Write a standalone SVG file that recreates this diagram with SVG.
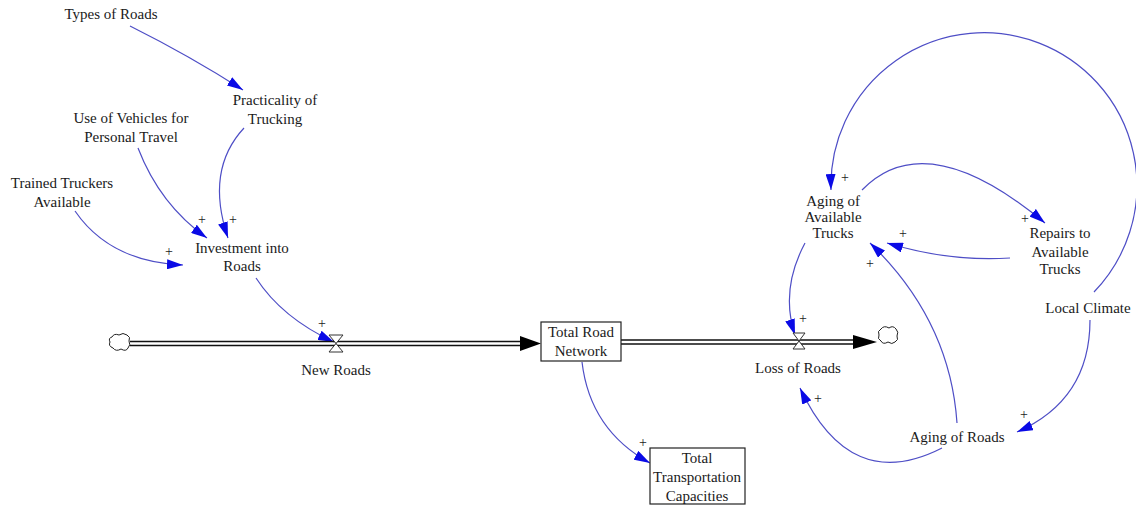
<svg xmlns="http://www.w3.org/2000/svg" width="1136" height="508" viewBox="0 0 1136 508">
<style>
text{font-family:"Liberation Serif","Times New Roman","DejaVu Serif","Noto Serif",serif;font-size:15px;fill:#1a1a1a;text-anchor:middle}
.pl{font-size:14px}
.lnk{fill:none;stroke:#4e4ec6;stroke-width:1.2;marker-end:url(#ah)}
.pipe{stroke:#111;stroke-width:1.4;fill:none}
.box{fill:#fff;stroke:#222;stroke-width:1.2}
.valve{fill:#fff;stroke:#333;stroke-width:1}
.cloud{fill:#fff;stroke:#222;stroke-width:1}
</style>
<defs>
<marker id="ah" viewBox="0 0 16 10" refX="16" refY="5" markerWidth="16" markerHeight="10" markerUnits="userSpaceOnUse" orient="auto">
<path d="M0,0 L16,5 L0,10 Z" fill="#0a0ae6"/>
</marker>
</defs>
<rect width="1136" height="508" fill="#fff"/>

<g id="connectors">
<path class="lnk" d="M130 26 Q190 56 243 90"/>
<path class="lnk" d="M138 148 Q160 205 207 238"/>
<path class="lnk" d="M244 128 Q205 170 228 238"/>
<path class="lnk" d="M75 211 Q110 262 183 265"/>
<path class="lnk" d="M256 278 Q282 318 334 342"/>
<path class="lnk" d="M582 362 Q590 430 650 463"/>
<path class="lnk" d="M1094 292 A153 153 0 1 0 831 190"/>
<path class="lnk" d="M862 190 Q926 124 1045 223"/>
<path class="lnk" d="M1010 258 Q950 262 887 243"/>
<path class="lnk" d="M957 423 Q950 320 870 243"/>
<path class="lnk" d="M805 243 Q780 290 795 335"/>
<path class="lnk" d="M1090 320 Q1090 400 1017 432"/>
<path class="lnk" d="M942 448 Q850 495 800 388"/>
<g id="polarity">
<text x="202" y="224" class="pl">+</text>
<text x="233" y="224" class="pl">+</text>
<text x="169" y="256" class="pl">+</text>
<text x="322" y="328" class="pl">+</text>
<text x="643" y="447" class="pl">+</text>
<text x="845" y="182" class="pl">+</text>
<text x="1025" y="223" class="pl">+</text>
<text x="903" y="238" class="pl">+</text>
<text x="870" y="268" class="pl">+</text>
<text x="803" y="323" class="pl">+</text>
<text x="818" y="403" class="pl">+</text>
<text x="1024" y="419" class="pl">+</text>
</g>
</g>

<g id="flow-new-roads">
<path class="cloud" d="M112 337 Q114 333 119 335 Q123 332 127 335 Q131 337 129 341 Q131 345 128 348 Q126 352 121 349 Q116 352 113 348 Q108 346 110 342 Q108 338 112 337 Z"/>
<line class="pipe" x1="130" y1="341.5" x2="522" y2="341.5"/>
<line class="pipe" x1="130" y1="345.5" x2="522" y2="345.5"/>
<polygon points="520,336 541,343.5 520,351" fill="#000"/>
<polygon class="valve" points="329,335 343,335 329,352 343,352"/>
<text x="336" y="375">New Roads</text>
</g>

<g id="flow-loss-of-roads">
<line class="pipe" x1="621" y1="340" x2="856" y2="340"/>
<line class="pipe" x1="621" y1="344" x2="856" y2="344"/>
<polygon points="853,335 877,342 853,349" fill="#000"/>
<path class="cloud" d="M881 329 Q884 325 889 328 Q893 325 896 329 Q899 332 897 336 Q899 340 895 342 Q892 345 888 342 Q883 345 881 341 Q877 339 879 335 Q877 331 881 329 Z"/>
<polygon class="valve" points="793,333 805,333 793,349 805,349"/>
<text x="798" y="373">Loss of Roads</text>
</g>

<g id="total-road-network">
<rect class="box" x="541" y="322" width="80" height="39"/>
<text x="581" y="337">Total Road</text>
<text x="581" y="356">Network</text>
</g>

<g id="total-transportation-capacities">
<rect class="box" x="650" y="448" width="95" height="56"/>
<text x="697" y="463">Total</text>
<text x="697" y="482">Transportation</text>
<text x="697" y="501">Capacities</text>
</g>

<g id="types-of-roads"><text x="111" y="19">Types of Roads</text></g>
<g id="practicality-of-trucking"><text x="275" y="105">Practicality of</text><text x="275" y="124">Trucking</text></g>
<g id="use-of-vehicles"><text x="131" y="123">Use of Vehicles for</text><text x="131" y="142">Personal Travel</text></g>
<g id="trained-truckers"><text x="62" y="188">Trained Truckers</text><text x="62" y="207">Available</text></g>
<g id="investment-into-roads"><text x="242" y="253">Investment into</text><text x="242" y="271">Roads</text></g>
<g id="aging-of-available-trucks"><text x="833" y="206">Aging of</text><text x="833" y="222">Available</text><text x="833" y="238">Trucks</text></g>
<g id="repairs-to-available-trucks"><text x="1060" y="238">Repairs to</text><text x="1060" y="257">Available</text><text x="1060" y="274">Trucks</text></g>
<g id="local-climate"><text x="1088" y="313">Local Climate</text></g>
<g id="aging-of-roads"><text x="957" y="442">Aging of Roads</text></g>
</svg>
